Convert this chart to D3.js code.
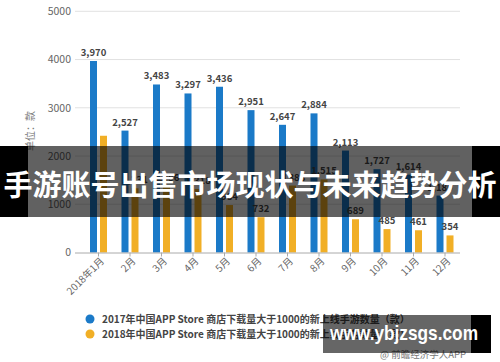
<!DOCTYPE html>
<html>
<head>
<meta charset="utf-8">
<script src="https://cdn.jsdelivr.net/npm/d3@7"></script>
<style>
  body { margin: 0; background: #fff; }
  svg { display: block; }
</style>
</head>
<body>
<script>
// data
var months = ["2018年1月", "2月", "3月", "4月", "5月", "6月", "7月", "8月", "9月", "10月", "11月", "12月"];
var sales2017 = [3970, 2527, 3483, 3297, 3436, 2951, 2647, 2884, 2113, 1727, 1614, 1180];
var sales2018 = [2420, 1331, 1386, 1318, 984, 732, 1388, 1515, 689, 485, 461, 354];
var yTicks = [0, 1000, 2000, 3000, 4000, 5000];
var seriesNames = [
  "2017年中国APP Store 商店下载量大于1000的新上线手游数量（款）",
  "2018年中国APP Store 商店下载量大于1000的新上线手游数量（款）"
];
var colors = ["#1b7ac8", "#f1af26"];

var width = 500, height = 362;
var font = "'Noto Sans CJK SC', 'Noto Sans', sans-serif";

var svg = d3.select("body").append("svg")
    .attr("width", width)
    .attr("height", height)
    .style("font-family", font);

var x = d3.scaleBand()
    .domain(months)
    .range([82.75, 460.75]);

var x1 = d3.scaleBand()
    .domain([0, 1])
    .range([-8.5, 8.5])
    .paddingInner(0.3);

var y = d3.scaleLinear()
    .domain([0, 5000])
    .range([252.5, 11.3]);

var fmt = d3.format(",");

// gridlines
svg.append("g")
  .selectAll("line")
  .data(yTicks.slice(1))
  .enter().append("line")
    .attr("x1", 75).attr("x2", 460)
    .attr("y1", function(d) { return y(d); })
    .attr("y2", function(d) { return y(d); })
    .attr("stroke", "#e2e2e2")
    .attr("stroke-width", 1);

// y axis labels
var yAxis = svg.append("g")
    .attr("transform", "translate(75,0)")
    .call(d3.axisLeft(y).tickValues(yTicks).tickSize(0).tickPadding(4).tickFormat(d3.format("d")));
yAxis.select(".domain").remove();
yAxis.selectAll("text")
    .style("font-family", font)
    .style("font-size", "10.5px")
    .attr("fill", "#666");

// unit label
svg.append("text")
    .attr("transform", "translate(34,131) rotate(-90)")
    .attr("text-anchor", "middle")
    .style("font-size", "10px")
    .attr("fill", "#777")
    .text("单位：款");

// bars
var series = [sales2017, sales2018];
series.forEach(function(vals, si) {
  svg.append("g")
    .selectAll("rect")
    .data(vals)
    .enter().append("rect")
      .attr("x", function(d, i) { return x(months[i]) + x.bandwidth() / 2 + x1(si); })
      .attr("width", x1.bandwidth())
      .attr("y", function(d) { return y(d); })
      .attr("height", function(d) { return y(0) - y(d); })
      .attr("fill", colors[si]);

  // the first 2018 label is hidden in the original (it would hit 2,527)
  svg.append("g")
    .selectAll("text")
    .data(vals)
    .enter().append("text")
      .attr("x", function(d, i) { return x(months[i]) + x.bandwidth() / 2 + x1(si) + x1.bandwidth() / 2; })
      .attr("y", function(d) { return y(d) - 5; })
      .attr("text-anchor", "middle")
      .style("font-size", "9.5px")
      .style("font-weight", "bold")
      .attr("fill", "#444")
      .text(function(d, i) { return (si == 1 && i == 0) ? "" : fmt(d); });
});

// x axis
var xAxis = svg.append("g")
    .attr("transform", "translate(0," + y(0) + ")")
    .call(d3.axisBottom(x).tickSize(4).tickSizeOuter(0));
xAxis.select(".domain")
    .attr("d", "M75,0.5H460")
    .attr("stroke", "#aaa");
xAxis.selectAll(".tick line").attr("stroke", "#aaa");
xAxis.selectAll("text")
    .style("font-family", font)
    .style("font-size", "10px")
    .attr("fill", "#666")
    .attr("text-anchor", "end")
    .attr("dx", "-0.2em")
    .attr("dy", "0.4em")
    .attr("transform", "rotate(-45)");

// legend
var legend = svg.append("g")
  .selectAll("g")
  .data(seriesNames)
  .enter().append("g")
    .attr("transform", function(d, i) { return "translate(90," + (319 + i * 15) + ")"; });
legend.append("circle")
    .attr("r", 4.5)
    .attr("fill", function(d, i) { return colors[i]; });
legend.append("text")
    .attr("x", 12)
    .attr("dy", "0.35em")
    .style("font-size", "10px")
    .style("font-weight", "bold")
    .attr("fill", "#444")
    .text(function(d) { return d; });

// source
svg.append("text")
    .attr("x", 423)
    .attr("y", 358)
    .attr("text-anchor", "middle")
    .style("font-size", "9.5px")
    .attr("fill", "#777")
    .text("@ 前瞻经济学人APP");

// title banner over the chart
var banner = svg.append("g");
banner.append("rect").attr("x", 0).attr("y", 146).attr("width", 28).attr("height", 71).attr("fill", "#000");
banner.append("rect").attr("x", 28).attr("y", 146).attr("width", 444).attr("height", 71).attr("fill", "rgba(0,0,0,0.62)");
banner.append("rect").attr("x", 472).attr("y", 146).attr("width", 28).attr("height", 71).attr("fill", "#000");
banner.append("text")
    .attr("x", 250)
    .attr("y", 196)
    .attr("text-anchor", "middle")
    .style("font-size", "29px")
    .style("font-weight", "bold")
    .attr("fill", "#fff")
    .text("手游账号出售市场现状与未来趋势分析");

// site mark
var mark = svg.append("g");
mark.append("rect").attr("x", 323).attr("y", 315).attr("width", 148).attr("height", 38).attr("fill", "rgba(0,0,0,0.6)");
mark.append("rect").attr("x", 471).attr("y", 315).attr("width", 20).attr("height", 38).attr("fill", "#000");
mark.append("text")
    .attr("x", 404)
    .attr("y", 340)
    .attr("text-anchor", "middle")
    .attr("textLength", 148)
    .attr("lengthAdjust", "spacingAndGlyphs")
    .style("font-family", "'Liberation Sans', Arial, sans-serif")
    .style("font-size", "21px")
    .style("font-weight", "bold")
    .attr("fill", "#fff")
    .text("www.ybjzsgs.com");
</script>
</body>
</html>
